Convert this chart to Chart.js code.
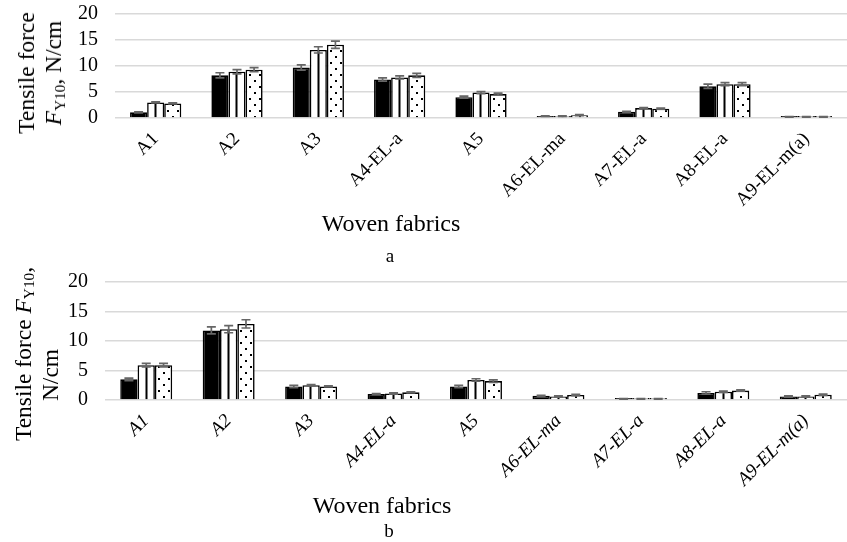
<!DOCTYPE html>
<html>
<head>
<meta charset="utf-8">
<script src="https://cdn.jsdelivr.net/npm/chart.js@4.4.1/dist/chart.umd.min.js"></script>
<style>
  html, body { margin: 0; padding: 0; background: #fff; }
  body { width: 847px; height: 542px; position: relative; overflow: hidden; font-family: "Liberation Serif", "Times New Roman", serif; color: #000; }
  .box { position: absolute; left: 0; width: 847px; }
  .txt { position: absolute; white-space: nowrap; transform: translate(-50%, -50%); }
  .ytitle { position: absolute; white-space: nowrap; text-align: center; font-size: 23.5px; line-height: 27px; transform: translate(-50%, -50%) rotate(-90deg); }
  sub { font-size: 0.65em; vertical-align: -0.25em; line-height: 0; }
</style>
</head>
<body>
<div class="box" style="top:0;height:212px"><canvas id="chartA"></canvas></div>
<div class="box" style="top:268px;height:232px"><canvas id="chartB"></canvas></div>

<div class="ytitle" style="left:40px;top:73px">Tensile force<br><i>F</i><sub>Y10</sub>, N/cm</div>
<div class="txt" style="left:391px;top:223px;font-size:24px">Woven fabrics</div>
<div class="txt" style="left:390px;top:256px;font-size:19px">a</div>

<div class="ytitle" style="left:23px;top:354px">Tensile force <i>F</i><sub>Y10</sub>,</div>
<div class="ytitle" style="left:50px;top:375px">N/cm</div>
<div class="txt" style="left:382px;top:505px;font-size:24px">Woven fabrics</div>
<div class="txt" style="left:389px;top:531px;font-size:19px">b</div>

<script>
const categories = ["A1", "A2", "A3", "A4-EL-a", "A5", "A6-EL-ma", "A7-EL-a", "A8-EL-a", "A9-EL-m(a)"];
const yTicks = [0, 5, 10, 15, 20];

// chart a
const aSeries1 = [1.1, 8.2, 9.7, 7.4, 4.0, 0.35, 1.2, 6.1, 0.2];
const aSeries2 = [3.0, 8.9, 13.1, 7.8, 4.9, 0.35, 1.9, 6.5, 0.2];
const aSeries3 = [2.8, 9.3, 14.1, 8.2, 4.6, 0.55, 1.8, 6.5, 0.2];
const aErr1 = [0.1, 0.5, 0.5, 0.3, 0.2, 0.05, 0.1, 0.4, 0.05];
const aErr2 = [0.1, 0.4, 0.6, 0.3, 0.2, 0.05, 0.1, 0.3, 0.05];
const aErr3 = [0.1, 0.4, 0.7, 0.4, 0.2, 0.1, 0.1, 0.3, 0.05];

// chart b
const bSeries1 = [3.5, 11.8, 2.3, 1.0, 2.3, 0.7, 0.2, 1.2, 0.6];
const bSeries2 = [5.9, 12.0, 2.5, 1.1, 3.4, 0.6, 0.2, 1.4, 0.6];
const bSeries3 = [5.9, 12.9, 2.3, 1.3, 3.2, 0.85, 0.2, 1.6, 0.9];
const bErr1 = [0.2, 0.6, 0.2, 0.1, 0.2, 0.1, 0.05, 0.2, 0.1];
const bErr2 = [0.3, 0.6, 0.1, 0.1, 0.2, 0.1, 0.05, 0.1, 0.1];
const bErr3 = [0.3, 0.7, 0.1, 0.1, 0.2, 0.1, 0.05, 0.1, 0.1];

const FONT = "'Liberation Serif', 'Times New Roman', serif";
const CAT_PCT = 0.63;

// fill tiles
function stripeTile() {
  const c = document.createElement("canvas");
  c.width = 17; c.height = 4;
  const g = c.getContext("2d");
  g.fillStyle = "#fff"; g.fillRect(0, 0, 17, 4);
  g.fillStyle = "#000"; g.fillRect(7.5, 0, 2, 4);
  return c;
}
function dotTile() {
  const c = document.createElement("canvas");
  c.width = 10; c.height = 12;
  const g = c.getContext("2d");
  g.fillStyle = "#fff"; g.fillRect(0, 0, 10, 12);
  g.fillStyle = "#000";
  g.fillRect(3, 2, 2, 2);
  g.fillRect(8, 8, 2, 2);
  return c;
}

// pattern lined up with each bar's left edge, found from the x scale
function barPattern(tile, dsIndex) {
  return (ctx) => {
    const chart = ctx.chart;
    const xs = chart.scales.x;
    const pat = chart.ctx.createPattern(tile, "repeat");
    if (!xs || ctx.dataIndex === undefined) return pat;
    const catW = xs.width / categories.length;
    const barW = catW * CAT_PCT / 3;
    const left = xs.getPixelForValue(ctx.dataIndex) - catW * CAT_PCT / 2 + dsIndex * barW;
    pat.setTransform(new DOMMatrix().translate(Math.round(left), 0));
    return pat;
  };
}

// error bars drawn from the y scale
const errorBars = {
  id: "errorBars",
  afterDatasetsDraw(chart) {
    const ctx = chart.ctx;
    const y = chart.scales.y;
    ctx.save();
    ctx.strokeStyle = "#666";
    ctx.lineWidth = 1.7;
    chart.data.datasets.forEach((ds, i) => {
      const meta = chart.getDatasetMeta(i);
      meta.data.forEach((bar, j) => {
        const v = ds.data[j], e = ds.errors[j];
        const top = y.getPixelForValue(v + e);
        const bot = y.getPixelForValue(Math.max(0, v - e));
        const x = bar.x, w = 4.5;
        ctx.beginPath();
        ctx.moveTo(x, top); ctx.lineTo(x, bot);
        ctx.moveTo(x - w, top); ctx.lineTo(x + w, top);
        ctx.moveTo(x - w, bot); ctx.lineTo(x + w, bot);
        ctx.stroke();
      });
    });
    ctx.restore();
  }
};

function makeChart(id, s1, s2, s3, e1, e2, e3, yWidth, xHeight, italic) {
  const ds = (label, data, errors, fill) => ({
    label, data, errors,
    backgroundColor: fill,
    borderColor: "#000",
    borderWidth: 1.6,
    borderSkipped: "bottom",
    minBarLength: 2,
    categoryPercentage: CAT_PCT,
    barPercentage: 1.0
  });
  return new Chart(document.getElementById(id), {
    type: "bar",
    data: {
      labels: categories,
      datasets: [
        ds("Series 1", s1, e1, "#000"),
        ds("Series 2", s2, e2, barPattern(stripeTile(), 1)),
        ds("Series 3", s3, e3, barPattern(dotTile(), 2))
      ]
    },
    options: {
      responsive: true,
      maintainAspectRatio: false,
      animation: false,
      layout: { padding: { top: 14, right: 0, left: 0, bottom: 0 } },
      plugins: { legend: { display: false }, tooltip: { enabled: false } },
      scales: {
        x: {
          grid: { display: false },
          border: { display: false },
          ticks: {
            color: "#000",
            maxRotation: 45, minRotation: 45,
            autoSkip: false,
            padding: 2,
            font: { family: FONT, size: 19, style: italic ? "italic" : "normal" }
          },
          afterFit(s) { s.height = xHeight; s.paddingTop = 0; s.paddingBottom = 0; }
        },
        y: {
          min: 0, max: 20,
          afterBuildTicks(s) { s.ticks = yTicks.map(v => ({ value: v })); },
          grid: { color: "#d9d9d9", lineWidth: 1.6, drawTicks: false },
          border: { display: false },
          ticks: { color: "#000", padding: 17, autoSkip: false, font: { family: FONT, size: 20 } },
          afterFit(s) { s.width = yWidth; s.paddingTop = 0; s.paddingBottom = 0; }
        }
      }
    },
    plugins: [errorBars]
  });
}

makeChart("chartA", aSeries1, aSeries2, aSeries3, aErr1, aErr2, aErr3, 115, 94, false);
makeChart("chartB", bSeries1, bSeries2, bSeries3, bErr1, bErr2, bErr3, 105, 100, true);
</script>
</body>
</html>
